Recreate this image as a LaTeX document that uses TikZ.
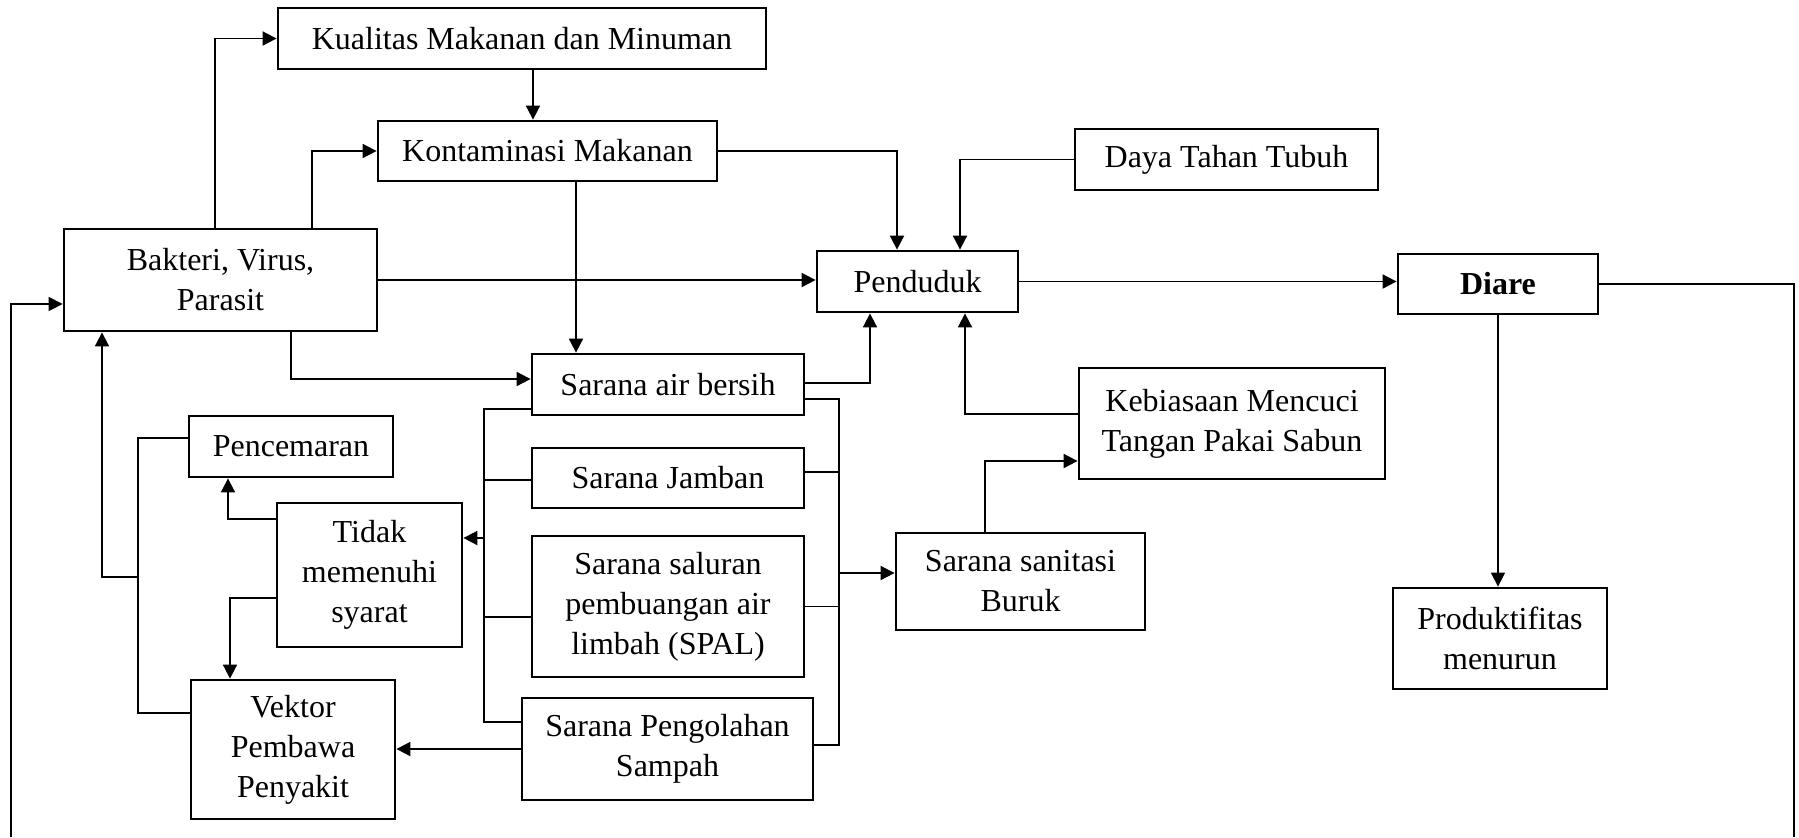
\documentclass[tikz,border=0pt]{standalone}
\usepackage{fontspec}
\setmainfont{Liberation Serif}
\usetikzlibrary{calc,arrows.meta}
\begin{document}
\begin{tikzpicture}[x=0.5pt,y=-0.5pt,
  box/.style={draw, line width=1.4pt, align=center, inner sep=0pt, font=\fontsize{16}{20}\selectfont},
  conn/.style={line width=0.9pt},
  thin/.style={line width=0.7pt},
  arr/.style={line width=0.9pt, -{Triangle[length=7pt,width=7pt]}}]
\useasboundingbox (0,0) rectangle (1799,837);
% nodes
\node[box, minimum width=244pt, minimum height=30.5pt] (kual) at (522,38.5) {Kualitas Makanan dan Minuman};
\node[box, minimum width=169.5pt, minimum height=30pt] (kont) at (547.5,151) {Kontaminasi Makanan};
\node[box, minimum width=156.5pt, minimum height=51pt] (bakt) at (220.5,280) {Bakteri, Virus,\\Parasit};
\node[box, minimum width=100.5pt, minimum height=30.5pt] (pend) at (917.5,281.5) {Penduduk};
\node[box, minimum width=151.5pt, minimum height=30.5pt] (daya) at (1226.5,159.5) {Daya Tahan Tubuh};
\node[box, minimum width=100pt, minimum height=30pt] (diare) at (1498,284) {\bfseries Diare};
\node[box, minimum width=153pt, minimum height=55.5pt] (keb) at (1232,423.5) {Kebiasaan Mencuci\\Tangan Pakai Sabun};
\node[box, minimum width=136pt, minimum height=30.5pt] (air) at (668,384.5) {Sarana air bersih};
\node[box, minimum width=136pt, minimum height=30pt] (jamban) at (668,478) {Sarana Jamban};
\node[box, minimum width=136pt, minimum height=70.5pt] (spal) at (668,606.5) {Sarana saluran\\pembuangan air\\limbah (SPAL)};
\node[box, minimum width=145.5pt, minimum height=51pt] (olah) at (667.5,749) {Sarana Pengolahan\\Sampah};
\node[box, minimum width=124.5pt, minimum height=48.5pt] (sanit) at (1020.5,581.5) {Sarana sanitasi\\Buruk};
\node[box, minimum width=107pt, minimum height=50.5pt] (prod) at (1500,638.5) {Produktifitas\\menurun};
\node[box, minimum width=102pt, minimum height=30.5pt] (pence) at (291,446.5) {Pencemaran};
\node[box, minimum width=92.5pt, minimum height=72pt] (tidak) at (369.5,575) {Tidak\\memenuhi\\syarat};
\node[box, minimum width=102pt, minimum height=69.5pt] (vektor) at (293,749.5) {Vektor\\Pembawa\\Penyakit};
% free coordinates
\coordinate (lbt) at (484,409);
\coordinate (lbb) at (484,722);
\coordinate (rbt) at (839,399);
\coordinate (rbb) at (839,745);
\coordinate (pvx) at (138,577);
\coordinate (rbot) at (1794,837);
\coordinate (lbot) at (11,837);
% connectors top
\draw[arr] ($(bakt.north)+(-5.5,0)$) |- (kual.west);
\draw[arr] ($(bakt.north)+(91.5,0)$) |- (kont.west);
\draw[arr] ($(kual.south)+(11,0)$) -- ($(kont.north)+(-14.5,0)$);
\draw[arr] ($(kont.south)+(28.5,0)$) -- ($(air.north)+(-92,0)$);
\draw[arr] (kont.east) -| ($(pend.north)+(-20.5,0)$);
\draw[arr] (daya.west) -| ($(pend.north)+(42.5,0)$);
\draw[arr] (bakt.east) -- (bakt.east -| pend.west);
\draw[arr] (pend.east) -- (pend.east -| diare.west);
\draw[thin,-{Triangle[length=7pt,width=7pt]}] (diare.south) -- (diare.south |- prod.north);
\draw[conn] (diare.east) -| (rbot);
\draw[thin,-{Triangle[length=7pt,width=7pt]}] (lbot) |- ($(bakt.west)+(0,24)$);
\draw[arr] ($(bakt.south)+(70.5,0)$) |- ($(air.west)+(0,-5.5)$);
\draw[arr] ($(air.east)+(0,-1.5)$) -| ($(pend.south)+(-47.5,0)$);
\draw[arr] ($(keb.west)+(0,-9.5)$) -| ($(pend.south)+(47.5,0)$);
\draw[arr] ($(sanit.north)+(-35.5,0)$) |- ($(keb.west)+(0,37.5)$);
% left bus
\path ($(air.west)+(0,24.5)$) coordinate (airL)
      ($(spal.west)+(0,10.5)$) coordinate (spalL)
      ($(olah.west)+(0,-27)$) coordinate (olahL)
      ($(jamban.west)+(0,2)$) coordinate (jambanL)
      ($(tidak.east)+(0,-37)$) coordinate (tidakE);
\draw[conn] (airL) -- (lbt) -- (lbb) -- (olahL);
\draw[conn] (jambanL) -- (jambanL -| lbt);
\draw[conn] (spalL) -- (spalL -| lbt);
\draw[arr] (tidakE -| lbt) -- (tidakE);
% right bus
\path ($(air.east)+(0,14.5)$) coordinate (airR)
      ($(jamban.east)+(0,-6)$) coordinate (jambanR)
      (spal.east) coordinate (spalR)
      ($(olah.east)+(0,-4)$) coordinate (olahR)
      ($(sanit.west)+(0,-8.5)$) coordinate (sanitL);
\draw[conn] (airR) -- (rbt) -- (rbb) -- (olahR);
\draw[conn] (jambanR) -- (jambanR -| rbt);
\draw[conn] (spalR) -- (spalR -| rbt);
\draw[arr] (sanitL -| rbt) -- (sanitL);
% lower left
\draw[arr] (olah.west) -- (olah.west -| vektor.east);
\draw[arr] ($(tidak.west)+(0,-56)$) -| ($(pence.south)+(-63,0)$);
\draw[arr] ($(tidak.west)+(0,23)$) -| ($(vektor.north)+(-63,0)$);
\draw[conn] ($(pence.west)+(0,-8.5)$) -| (pvx) |- ($(vektor.west)+(0,-36.5)$);
\draw[arr] (pvx) -| ($(bakt.south)+(-118.5,0)$);
\end{tikzpicture}
\end{document}
